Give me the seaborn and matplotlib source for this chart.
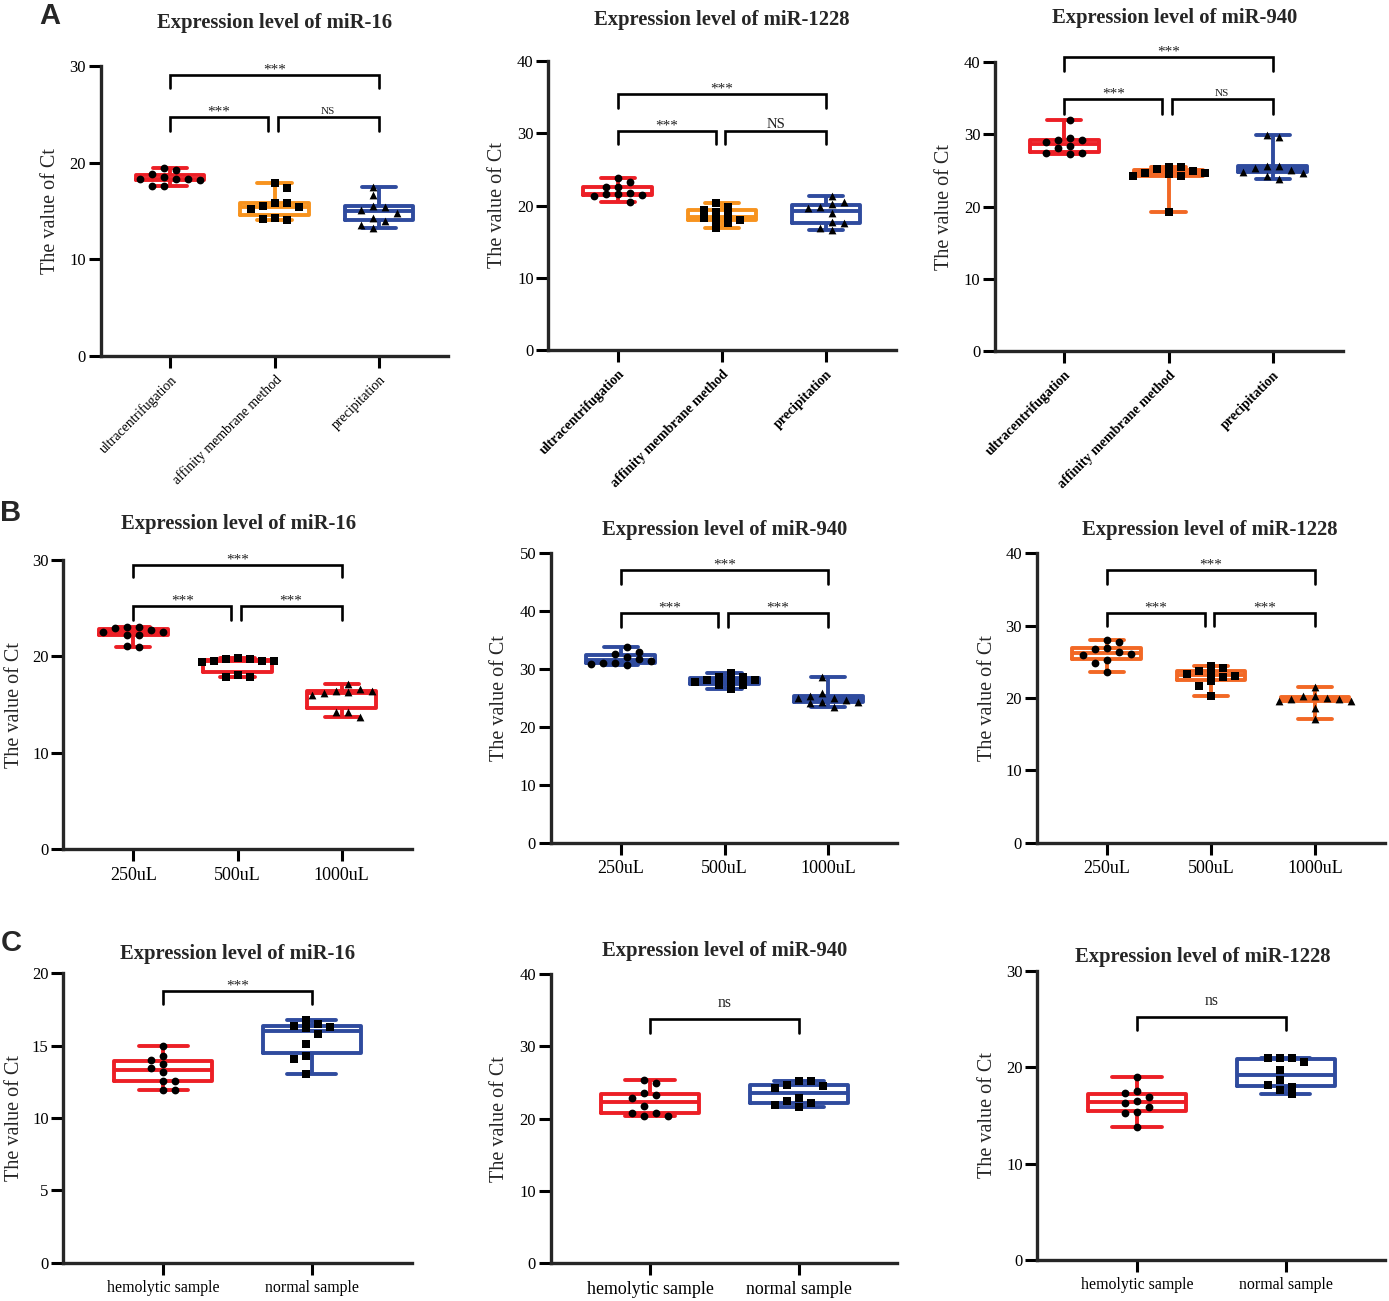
import numpy as np
import pandas as pd
import matplotlib
matplotlib.use("Agg")
import matplotlib.pyplot as plt
import seaborn as sns
import warnings

warnings.filterwarnings("ignore")

# Set style
sns.set_style("ticks")
plt.rcParams['font.family'] = ['Liberation Serif', 'DejaVu Serif']

W, H = 1389, 1301

RED = '#EC1F26'
ORANGE = '#F7931E'
ORANGE2 = '#F26825'
BLUE = '#2F4B9E'

# Category labels
method_cats = ['ultracentrifugation', 'affinity membrane method', 'precipitation']
volume_cats = ['250uL', '500uL', '1000uL']
sample_cats = ['hemolytic sample', 'normal sample']

# A: extraction method (Ct values)
a1_uc = [18.26, 18.8, 17.6, 19.2, 18.26, 19.47, 18.26, 17.6, 18.2, 18.47]
a1_am = [15.36, 15.5, 14.05, 17.33, 15.22, 14.3, 17.9, 15.84, 14.2, 15.84]
a1_pr = [15.43, 14.3, 13.2, 17.5, 16.64, 15.53, 13.98, 15.08, 13.53, 14.8]

a2_uc = [22.6, 21.7, 23.3, 21.45, 23.76, 22.6, 21.55, 20.53, 21.36, 21.55]
a2_am = [19.15, 18.0, 20.3, 19.38, 18.0, 16.84, 19.84, 18.68, 17.62, 18.22]
a2_pr = [20.53, 16.6, 21.3, 19.6, 17.53, 19.84, 18.9, 17.76, 16.84, 20.2]

a3_uc = [29.0, 27.3, 32.0, 29.3, 29.47, 28.4, 27.4, 29.24, 27.4, 28.1]
a3_am = [24.25, 24.99, 25.17, 24.5, 19.3, 25.45, 24.6, 25.54, 24.25, 24.6]
a3_pr = [25.6, 29.9, 24.7, 23.8, 25.3, 29.7, 25.1, 24.25, 25.7, 24.85]

# B: plasma volume
b1_250 = [23.09, 22.23, 22.92, 22.5, 21.02, 22.57, 21.12, 23.02, 22.23, 22.75]
b1_500 = [19.74, 19.5, 19.5, 17.9, 19.46, 18.08, 19.56, 17.9, 19.7, 19.8]
b1_1000 = [16.45, 16.18, 13.76, 16.0, 17.15, 16.28, 14.2, 16.45, 14.2, 16.63]

b2_250 = [30.82, 33.87, 32.6, 31.4, 32.0, 31.0, 33.0, 31.0, 31.7, 30.65]
b2_500 = [27.8, 28.7, 26.6, 29.26, 27.94, 28.1, 27.25, 28.57, 27.25, 28.1]
b2_1000 = [24.65, 25.06, 23.5, 28.57, 25.9, 24.25, 25.4, 24.1, 24.37, 24.94]

b3_250 = [26.77, 25.94, 27.79, 26.4, 24.79, 23.64, 28.02, 26.87, 25.25, 26.08]
b3_500 = [23.78, 23.09, 24.1, 23.4, 21.66, 20.28, 24.47, 22.95, 22.35, 23.32]
b3_1000 = [20.28, 19.95, 19.59, 21.47, 19.82, 18.57, 17.05, 19.63, 19.82, 20.28]

# C: hemolysis
c1_hem = [13.48, 11.94, 14.98, 14.3, 13.71, 12.53, 14.0, 13.16, 12.53, 11.94]
c1_nor = [16.3, 16.77, 15.78, 14.06, 13.04, 16.2, 15.1, 14.29, 16.36, 16.5]

c2_hem = [21.75, 20.41, 25.35, 22.9, 20.83, 24.98, 23.27, 20.41, 23.5, 20.74]
c2_nor = [25.2, 22.8, 21.66, 24.29, 22.44, 25.2, 24.65, 21.89, 24.52, 22.12]

c3_hem = [17.35, 16.28, 15.35, 19.01, 16.87, 15.83, 13.83, 17.49, 16.45, 15.28]
c3_nor = [20.95, 17.97, 20.53, 18.63, 17.18, 20.95, 19.7, 17.63, 20.95, 18.15]

MARKERS = ['o', 's', '^']

# layout in pixels: axis left, right, top, bottom; first category x, category step
panels = [
    dict(title='Expression level of miR-16', cats=method_cats, values=[a1_uc, a1_am, a1_pr],
         colors=[RED, ORANGE, BLUE], box=(100.7, 448, 66, 355.6), c0=170, step=104.5,
         ymax=30, ystep=10, title_xy=(275, 23), ylab_x=48,
         xt=dict(rotation=45, size=10, weight='normal'),
         brackets=[(0, 2, 29.06, 27.7, '***', 11), (0, 1, 24.75, 23.3, '***', 11),
                   (1, 2, 24.75, 23.3, 'NS', 8)]),
    dict(title='Expression level of miR-1228', cats=method_cats, values=[a2_uc, a2_am, a2_pr],
         colors=[RED, ORANGE, BLUE], box=(548.3, 896, 61, 350), c0=617.7, step=104.2,
         ymax=40, ystep=10, title_xy=(721.7, 20), ylab_x=495,
         xt=dict(rotation=45, size=10, weight='bold'),
         brackets=[(0, 2, 35.4, 33.5, '***', 11), (0, 1, 30.3, 28.5, '***', 11),
                   (1, 2, 30.3, 28.5, 'NS', 10.5)]),
    dict(title='Expression level of miR-940', cats=method_cats, values=[a3_uc, a3_am, a3_pr],
         colors=[RED, ORANGE2, BLUE], box=(995, 1342.7, 62.3, 351), c0=1064.3, step=104.2,
         ymax=40, ystep=10, title_xy=(1174.3, 18), ylab_x=941.7,
         xt=dict(rotation=45, size=10, weight='bold'),
         brackets=[(0, 2, 40.7, 38.8, '***', 11), (0, 1, 34.9, 32.9, '***', 11),
                   (1, 2, 34.9, 32.9, 'NS', 8)]),
    dict(title='Expression level of miR-16', cats=volume_cats, values=[b1_250, b1_500, b1_1000],
         colors=[RED, RED, RED], box=(63.3, 411.7, 560, 849.3), c0=133.3, step=104.2,
         ymax=30, ystep=10, title_xy=(238.3, 524), ylab_x=11.7,
         xt=dict(rotation=0, size=13, weight='normal'),
         brackets=[(0, 2, 29.5, 28.2, '***', 11), (0, 1, 25.2, 23.8, '***', 11),
                   (1, 2, 25.2, 23.8, '***', 11)]),
    dict(title='Expression level of miR-940', cats=volume_cats, values=[b2_250, b2_500, b2_1000],
         colors=[BLUE, BLUE, BLUE], box=(550.7, 897.3, 553.3, 842.7), c0=620.7, step=103.8,
         ymax=50, ystep=10, title_xy=(725, 530), ylab_x=497,
         xt=dict(rotation=0, size=13, weight='normal'),
         brackets=[(0, 2, 47.1, 44.7, '***', 11), (0, 1, 39.7, 37.3, '***', 11),
                   (1, 2, 39.7, 37.3, '***', 11)]),
    dict(title='Expression level of miR-1228', cats=volume_cats, values=[b3_250, b3_500, b3_1000],
         colors=[ORANGE2, ORANGE2, ORANGE2], box=(1036.7, 1385, 553.3, 842.7), c0=1106.7, step=104.2,
         ymax=40, ystep=10, title_xy=(1210, 530), ylab_x=984,
         xt=dict(rotation=0, size=13, weight='normal'),
         brackets=[(0, 2, 37.7, 35.76, '***', 11), (0, 1, 31.7, 29.9, '***', 11),
                   (1, 2, 31.7, 29.9, '***', 11)]),
    dict(title='Expression level of miR-16', cats=sample_cats, values=[c1_hem, c1_nor],
         colors=[RED, BLUE], box=(63.3, 411.7, 973.3, 1262.7), c0=163.3, step=148.4,
         ymax=20, ystep=5, title_xy=(238, 954), ylab_x=11.7,
         xt=dict(rotation=0, size=11.4, weight='normal'),
         brackets=[(0, 1, 18.8, 17.9, '***', 11)]),
    dict(title='Expression level of miR-940', cats=sample_cats, values=[c2_hem, c2_nor],
         colors=[RED, BLUE], box=(550.7, 897.3, 974, 1263.3), c0=650, step=149,
         ymax=40, ystep=10, title_xy=(724.5, 951), ylab_x=497,
         xt=dict(rotation=0, size=12.9, weight='normal'),
         brackets=[(0, 1, 33.8, 31.8, 'ns', 11.3)]),
    dict(title='Expression level of miR-1228', cats=sample_cats, values=[c3_hem, c3_nor],
         colors=[RED, BLUE], box=(1037.3, 1385, 970.7, 1260), c0=1137, step=148.7,
         ymax=30, ystep=10, title_xy=(1203, 957), ylab_x=984,
         xt=dict(rotation=0, size=11.4, weight='normal'),
         brackets=[(0, 1, 25.2, 23.85, 'ns', 11.3)]),
]


def scatter_offsets(vals, px_x, px_y, gap=12, diam=7.5):
    """GraphPad-like column scatter: points that share a row get spread sideways."""
    order = np.argsort(vals)[::-1]
    placed = []
    offs = np.zeros(len(vals))
    for n_done, idx in enumerate(order):
        y = vals[idx] * px_y
        sign = 1 if n_done % 2 else -1
        cands = [0]
        for k in range(1, 8):
            cands += [sign * k, -sign * k]
        for c in cands:
            x = c * gap
            if all(abs(x - px) >= gap * 0.95 or abs(y - py) >= diam for px, py in placed):
                break
        placed.append((x, y))
        offs[idx] = x / px_x
    # centre the columns on the category
    offs -= (offs.max() + offs.min()) / 2
    return offs


fig = plt.figure(figsize=(W / 100, H / 100), dpi=100)

for p in panels:
    left, right, top, bottom = p['box']
    ax = fig.add_axes([left / W, 1 - bottom / H, (right - left) / W, (bottom - top) / H])
    cats = p['cats']
    df = pd.DataFrame({
        'group': np.repeat(cats, [len(v) for v in p['values']]),
        'ct': np.concatenate(p['values']),
    })
    n = len(cats)
    px_y = (bottom - top) / p['ymax']

    # min-to-max box plots, hollow with thick coloured outline
    sns.boxplot(data=df, x='group', y='ct', order=cats, hue='group', hue_order=cats,
                palette=p['colors'], fill=False, width=0.66, whis=(0, 100),
                showfliers=False, linewidth=2.8, legend=False, ax=ax)
    for i, cat in enumerate(cats):
        vals = np.asarray(p['values'][i], dtype=float)
        xs = i + scatter_offsets(vals, p['step'], px_y)
        sns.scatterplot(x=xs, y=vals, marker=MARKERS[i], color='black', s=5.6 ** 2,
                        linewidth=0, zorder=4, legend=False, ax=ax)

    # axes styling
    ax.set_xlim((left - p['c0']) / p['step'], (right - p['c0']) / p['step'])
    ax.set_ylim(0, p['ymax'])
    yt = np.arange(0, p['ymax'] + 0.1, p['ystep'])
    ax.set_yticks(yt)
    ax.set_yticklabels([f'{v:g}' for v in yt], fontsize=12)
    ax.set_xticks(range(n))
    xt = p['xt']
    if xt['rotation']:
        ax.set_xticklabels(cats, rotation=45, ha='right', va='top', rotation_mode='anchor',
                           fontsize=xt['size'], fontweight=xt['weight'])
    else:
        ax.set_xticklabels(cats, fontsize=xt['size'], fontweight=xt['weight'])
    ax.set_xlabel('')
    ax.set_ylabel('The value of Ct', fontsize=14.5)
    ax.yaxis.label.set_va('center')
    ax.yaxis.set_label_coords((p['ylab_x'] + 3 - left) / (right - left), 0.5)
    for s in ['top', 'right']:
        ax.spines[s].set_visible(False)
    for s in ['left', 'bottom']:
        ax.spines[s].set_linewidth(2.4)
    ax.tick_params(axis='both', width=2.2, length=8.5, color='black', labelcolor='black')
    ax.tick_params(axis='x', pad=4)
    ax.tick_params(axis='y', pad=2)

    # significance brackets
    for i, j, ybar, yleg, label, fs in p['brackets']:
        x0, x1 = float(i), float(j)
        if n == 3 and j - i == 1:
            if i == 0:
                x1 = j - 0.06
            else:
                x0 = i + 0.03
        ax.plot([x0, x0, x1, x1], [yleg, ybar, ybar, yleg], color='black', lw=1.9,
                solid_joinstyle='miter', clip_on=False, zorder=5)
        off = 1 if label == '***' else (2 if label == 'NS' else 8.5)
        ax.annotate(label, xy=((x0 + x1) / 2, ybar), xytext=(0, off), textcoords='offset points',
                    ha='center', va='baseline', fontsize=fs, color='#222222',
                    annotation_clip=False)

    tx, ty = p['title_xy']
    fig.text(tx / W, 1 - ty / H, p['title'], ha='center', va='center',
             fontsize=14.9, fontweight='bold')

# panel letters
for letter, (lx, ly) in zip('ABC', [(50, 16), (11, 513), (11, 943)]):
    fig.text(lx / W, 1 - ly / H, letter, ha='center', va='center', fontsize=21,
             fontweight='bold', family=['Liberation Sans', 'DejaVu Sans'])

fig.savefig('out.png', dpi=100)
